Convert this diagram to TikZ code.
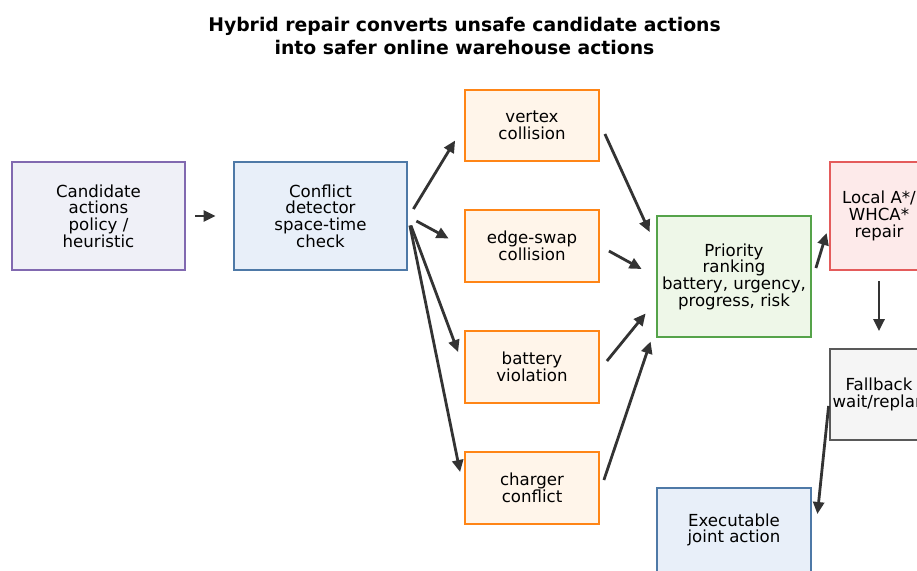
\documentclass[tikz,border=0pt]{standalone}
\usepackage{fontspec}
\setmainfont{DejaVu Sans}
\usetikzlibrary{calc,arrows.meta}
\definecolor{inkc}{HTML}{333333}
\definecolor{purpleb}{HTML}{8169B0}
\definecolor{purplef}{HTML}{EFF0F7}
\definecolor{blueb}{HTML}{4E79A7}
\definecolor{bluef}{HTML}{E8EFF9}
\definecolor{orangeb}{HTML}{FF8516}
\definecolor{orangef}{HTML}{FFF5EA}
\definecolor{greenb}{HTML}{55A34A}
\definecolor{greenf}{HTML}{EEF7E8}
\definecolor{redb}{HTML}{E45B5B}
\definecolor{redf}{HTML}{FDEAEA}
\definecolor{grayb}{HTML}{595959}
\definecolor{grayf}{HTML}{F5F5F5}
\tikzset{
  box/.style={draw, line width=2.8pt, inner sep=0pt, align=center,
    font=\fontsize{16.6}{16.7}\selectfont, text=black},
  wide/.style={box, minimum width=173pt, minimum height=108pt},
  issue/.style={box, draw=orangeb, fill=orangef, minimum width=134pt, minimum height=72pt},
  arr/.style={draw=inkc, line width=2.8pt, -{Triangle[length=12pt,width=11pt]}},
}
\begin{document}
\begin{tikzpicture}[x=1pt,y=-1pt]
\useasboundingbox (0,0) rectangle (917,570);
\clip (0,0) rectangle (917,570);
\fill[white] (0,0) rectangle (917,570);

\node[font=\fontsize{18.8}{22.5}\selectfont\bfseries, align=center] (title) at (464.5,36)
  {Hybrid repair converts unsafe candidate actions\\into safer online warehouse actions};

\node[wide, draw=purpleb, fill=purplef] (cand) at (98.5,216) {Candidate\\actions\\policy /\\heuristic};
\node[wide, draw=blueb, fill=bluef] (conf) at (320.5,216) {Conflict\\detector\\space-time\\check};

\node[issue, minimum height=71pt] (vtx) at (532,125.5) {vertex\\collision};
\node[issue] (edge) at (532,246) {edge-swap\\collision};
\node[issue] (batt) at (532,367) {battery\\violation};
\node[issue] (chg) at (532,488) {charger\\conflict};

\node[box, draw=greenb, fill=greenf, minimum width=154pt, minimum height=121pt] (prio) at (734,276.5)
  {Priority\\ranking\\battery, urgency,\\progress, risk};
\node[box, draw=redb, fill=redf, minimum width=98pt, minimum height=108pt] (local) at (879,216)
  {Local A*/\\WHCA*\\repair};
\node[box, draw=grayb, fill=grayf, minimum width=98pt, minimum height=91pt] (fall) at (879,394.5)
  {Fallback\\wait/replan};
\node[box, draw=blueb, fill=bluef, minimum width=154pt, minimum height=84pt] (exec) at (734,530)
  {Executable\\joint action};

\draw[arr] ($(cand.east)+(9,0)$) -- ($(conf.west)+(-17,0)$);
\draw[arr] ($(conf.east)+(5,-7)$) -- ($(vtx.west)+(-8.5,15)$);
\draw[arr] ($(conf.east)+(8,5)$) -- ($(edge.west)+(-15,-7.5)$);
\draw[arr] ($(conf.east)+(2.5,9.5)$) -- ($(batt.west)+(-5.5,-15)$);
\draw[arr] ($(conf.east)+(1.5,9.5)$) -- ($(chg.west)+(-3.5,-16)$);
\draw[arr] ($(vtx.east)+(4.5,8.5)$) -- ($(prio.west)+(-6,-44.5)$);
\draw[arr] ($(edge.east)+(8.5,5)$) -- ($(prio.west)+(-14,-7.5)$);
\draw[arr] ($(batt.east)+(6.5,-6)$) -- ($(prio.west)+(-10,37)$);
\draw[arr] ($(chg.east)+(3.5,-8)$) -- ($(prio.west)+(-5,65)$);
\draw[arr] ($(prio.east)+(3.5,-8.5)$) -- ($(local.west)+(-2,17)$);
\draw[arr] ($(local.south)+(0,10)$) -- ($(fall.north)+(0,-16.5)$);
\draw[arr] ($(fall.west)+(0,11.5)$) -- ($(exec.east)+(5,-16)$);
\end{tikzpicture}
\end{document}
